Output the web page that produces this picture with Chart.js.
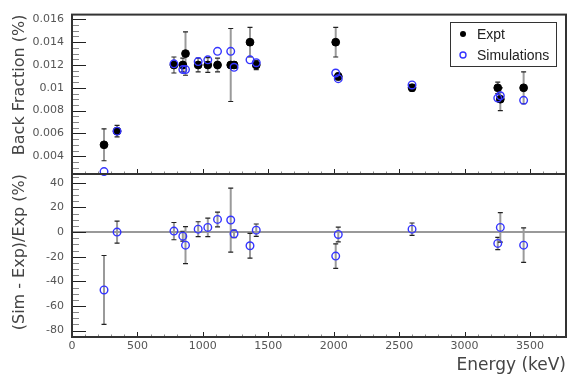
<!DOCTYPE html>
<html>
<head>
<meta charset="utf-8">
<script src="https://cdn.jsdelivr.net/npm/chart.js@4.4.1/dist/chart.umd.min.js"></script>
<style>
  html, body { margin: 0; padding: 0; background: #fff; }
  #wrap { position: relative; width: 579px; height: 386px; }
  #wrap canvas { position: absolute; left: 0; top: 0; }
</style>
</head>
<body>
<div id="wrap">
  <canvas id="topChart" width="579" height="386"></canvas>
  <canvas id="bottomChart" width="579" height="386"></canvas>
</div>
<script>
// gamma line energies (keV)
const energies = [244.7, 344.3, 778.9, 846.8, 867.4, 964.1, 1037.8, 1112.1, 1212.9, 1238.3,
                  1360.2, 1408.0, 2015.2, 2034.8, 2598.5, 3253.5, 3273.1, 3451.2];
// back fraction (%)
const expt    = [0.0050, 0.0062, 0.0120, 0.0120, 0.0130, 0.0120, 0.0120, 0.0120, 0.0120, 0.0120,
                 0.0140, 0.0120, 0.0140, 0.0110, 0.0100, 0.0100, 0.0090, 0.0100];
const exptErr = [0.0014, 0.0005, 0.0007, 0.0006, 0.0019, 0.0006, 0.00065, 0.0006, 0.0032, 0.0003,
                 0.0013, 0.0004, 0.0013, 0.0003, 0.0003, 0.0005, 0.0010, 0.0014];
const sim     = [0.00265, 0.0062, 0.0121, 0.0116, 0.0116, 0.0123, 0.01245, 0.0132, 0.0132, 0.0118,
                 0.01245, 0.0122, 0.0113, 0.0108, 0.01025, 0.0091, 0.0093, 0.0089];
// (Sim - Exp)/Exp (%)
const diff    = [-47, 0, 0.8, -3.3, -10.6, 2.4, 3.8, 10.3, 9.8, -1.4,
                 -11.1, 1.6, -19.5, -1.9, 2.4, -9.2, 3.8, -10.6];
const diffErr = [28, 9, 7, 4, 15, 6, 7.5, 6, 26, 3, 10, 5, 10, 6, 5, 5, 12, 14];

const energyTicks = [0, 500, 1000, 1500, 2000, 2500, 3000, 3500];
const fracTicks = [0.004, 0.006, 0.008, 0.01, 0.012, 0.014, 0.016];
const diffTicks = [-80, -60, -40, -20, 0, 20, 40];

const FONT = "'DejaVu Sans', sans-serif";
const X_MAX = 3775;

function pts(ys) {
  return energies.map((e, i) => ({x: e, y: ys[i]}));
}

// vertical error bars: grey stem with dark caps
function errorBars(vals, errs) {
  return {
    id: 'errorBars',
    beforeDatasetsDraw(chart) {
      const ctx = chart.ctx, xs = chart.scales.x, ys = chart.scales.y;
      ctx.save();
      energies.forEach((e, i) => {
        if (!errs[i]) return;
        const px = xs.getPixelForValue(e);
        const y1 = ys.getPixelForValue(vals[i] + errs[i]);
        const y2 = ys.getPixelForValue(vals[i] - errs[i]);
        ctx.strokeStyle = '#9a9a9a';
        ctx.lineWidth = 2;
        ctx.beginPath(); ctx.moveTo(px, y1); ctx.lineTo(px, y2); ctx.stroke();
        ctx.strokeStyle = '#222';
        ctx.lineWidth = 1.2;
        ctx.beginPath();
        ctx.moveTo(px - 2.5, y1); ctx.lineTo(px + 2.5, y1);
        ctx.moveTo(px - 2.5, y2); ctx.lineTo(px + 2.5, y2);
        ctx.stroke();
      });
      ctx.restore();
    }
  };
}

// ROOT style frame with inward ticks
function rootFrame(yMinorStep, yMajor) {
  return {
    id: 'rootFrame',
    afterDraw(chart) {
      const ctx = chart.ctx, a = chart.chartArea;
      const xs = chart.scales.x, ys = chart.scales.y;
      ctx.save();
      ctx.lineWidth = 1;
      // y ticks
      const n0 = Math.ceil(ys.min / yMinorStep), n1 = Math.floor(ys.max / yMinorStep);
      for (let n = n0; n <= n1; n++) {
        const v = n * yMinorStep;
        const major = yMajor.some(t => Math.abs(t - v) < yMinorStep / 10);
        const py = Math.round(ys.getPixelForValue(v)) + 0.5;
        ctx.strokeStyle = major ? '#222' : '#888';
        ctx.beginPath(); ctx.moveTo(a.left, py); ctx.lineTo(a.left + (major ? 14 : 7), py); ctx.stroke();
      }
      // x ticks
      for (let v = 0; v <= xs.max; v += 100) {
        const major = v % 500 === 0;
        const px = Math.round(xs.getPixelForValue(v)) + 0.5;
        ctx.strokeStyle = major ? '#222' : '#888';
        ctx.beginPath(); ctx.moveTo(px, a.bottom); ctx.lineTo(px, a.bottom - (major ? 5 : 2.5)); ctx.stroke();
      }
      ctx.strokeStyle = '#333';
      ctx.lineWidth = 2;
      ctx.strokeRect(a.left, a.top, a.right - a.left, a.bottom - a.top);
      ctx.restore();
    }
  };
}

const legendBox = {
  id: 'legendBox',
  afterDraw(chart) {
    const ctx = chart.ctx;
    ctx.save();
    ctx.fillStyle = '#fff';
    ctx.fillRect(450, 22, 106, 44);
    ctx.strokeStyle = '#333';
    ctx.lineWidth = 1;
    ctx.strokeRect(450.5, 22.5, 106, 44);
    ctx.font = "14px 'Liberation Sans', Arial, sans-serif";
    ctx.textBaseline = 'middle';
    chart.data.datasets.forEach((ds, i) => {
      const y = 34 + i * 21;
      ctx.beginPath();
      ctx.arc(463, y, 3, 0, Math.PI * 2);
      if (ds.pointBackgroundColor !== 'transparent') {
        ctx.fillStyle = ds.pointBackgroundColor; ctx.fill();
      } else {
        ctx.strokeStyle = ds.pointBorderColor; ctx.lineWidth = 1.4; ctx.stroke();
      }
      ctx.fillStyle = '#222';
      ctx.fillText(ds.label, 477, y + 1);
    });
    ctx.restore();
  }
};

const zeroLine = {
  id: 'zeroLine',
  beforeDatasetsDraw(chart) {
    const ctx = chart.ctx, a = chart.chartArea;
    const py = chart.scales.y.getPixelForValue(0);
    ctx.save();
    ctx.strokeStyle = '#999';
    ctx.lineWidth = 2;
    ctx.beginPath(); ctx.moveTo(a.left, py); ctx.lineTo(a.right, py); ctx.stroke();
    ctx.restore();
  }
};

function yAxis(min, max, ticks, title) {
  return {
    type: 'linear',
    min: min,
    max: max,
    afterBuildTicks: s => { s.ticks = ticks.map(v => ({value: v})); },
    afterFit: s => { s.width = 72; },
    grid: {display: false, drawTicks: false},
    border: {display: false},
    ticks: {
      callback: v => String(+v.toFixed(4)),
      font: {family: FONT, size: 11},
      color: '#555',
      padding: 8
    },
    title: {
      display: true,
      text: title,
      align: 'end',
      color: '#444',
      font: {family: FONT, size: 16},
      padding: {top: 10, bottom: 0}
    }
  };
}

Chart.defaults.animation = false;

new Chart('topChart', {
  type: 'scatter',
  data: {
    datasets: [{
      label: 'Expt',
      data: pts(expt),
      pointRadius: 3.9,
      pointBackgroundColor: '#000',
      pointBorderColor: '#000',
      pointBorderWidth: 1,
      order: 1,
      clip: false
    }, {
      label: 'Simulations',
      data: pts(sim),
      pointRadius: 3.8,
      pointBackgroundColor: 'transparent',
      pointBorderColor: '#3434ff',
      pointBorderWidth: 1.4,
      order: 0,
      clip: false
    }]
  },
  options: {
    responsive: false,
    devicePixelRatio: 1,
    layout: {padding: {top: 12, right: 13, left: 0, bottom: 0}},
    plugins: {legend: {display: false}, tooltip: {enabled: false}},
    scales: {
      x: {
        type: 'linear', min: 0, max: X_MAX,
        afterFit: s => { s.height = 212; },
        ticks: {display: false},
        grid: {display: false, drawTicks: false},
        border: {display: false}
      },
      y: yAxis(0.00244, 0.01642, fracTicks, 'Back Fraction (%)')
    }
  },
  plugins: [errorBars(expt, exptErr), rootFrame(0.0005, fracTicks), legendBox]
});

new Chart('bottomChart', {
  type: 'scatter',
  data: {
    datasets: [{
      label: '(Sim - Exp)/Exp',
      data: pts(diff),
      pointRadius: 3.8,
      pointBackgroundColor: 'transparent',
      pointBorderColor: '#3434ff',
      pointBorderWidth: 1.4
    }]
  },
  options: {
    responsive: false,
    devicePixelRatio: 1,
    layout: {padding: {top: 174, right: 13, left: 0, bottom: 0}},
    plugins: {legend: {display: false}, tooltip: {enabled: false}},
    scales: {
      x: {
        type: 'linear', min: 0, max: X_MAX,
        afterBuildTicks: s => { s.ticks = energyTicks.map(v => ({value: v})); },
        afterFit: s => { s.height = 49; },
        grid: {display: false, drawTicks: false},
        border: {display: false},
        ticks: {
          callback: v => String(v),
          font: {family: FONT, size: 11},
          color: '#555',
          padding: 3,
          maxRotation: 0
        },
        title: {
          display: true,
          text: 'Energy (keV)',
          align: 'end',
          color: '#444',
          font: {family: FONT, size: 17},
          padding: {top: 0, bottom: 10}
        }
      },
      y: yAxis(-85.2, 47.2, diffTicks, '(Sim - Exp)/Exp (%)')
    }
  },
  plugins: [zeroLine, errorBars(diff, diffErr), rootFrame(5, diffTicks)]
});
</script>
</body>
</html>
